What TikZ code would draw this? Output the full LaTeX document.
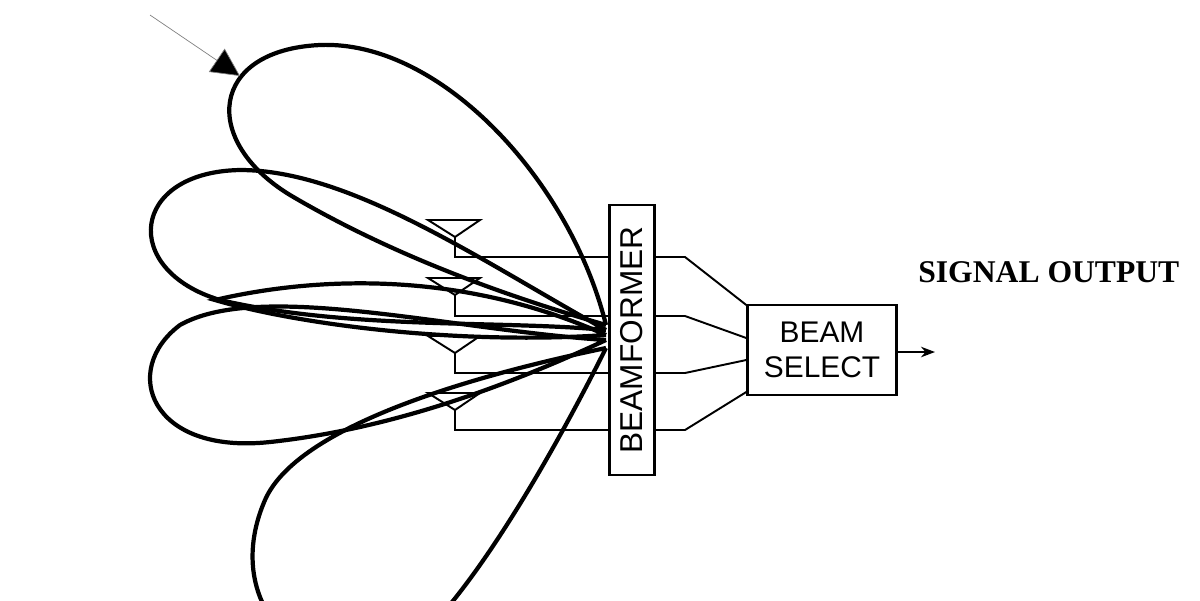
\documentclass[tikz,border=0pt]{standalone}
\usepackage{fontspec}
\setmainfont{Liberation Serif}
\setsansfont{Liberation Sans}
\usepackage{tikz}
\usetikzlibrary{arrows.meta,positioning,calc}
\begin{document}
\begin{tikzpicture}[x=0.02cm,y=-0.02cm,
    lobe/.style={line width=2.4pt},
    wire/.style={line width=1.1pt},
    box/.style={draw,line width=1.4pt,inner sep=0pt},
    lbl/.style={font=\sffamily\fontsize{18}{19}\selectfont}]
    \useasboundingbox (0,0) rectangle (1200,600);
    \begin{scope}
        \clip (0,0) rectangle (1200,600);
        % beam lobes
        \coordinate (O) at (606,335);
        \draw[lobe] (606,325) .. controls (570,180) and (440,40) .. (320,45) .. controls (210,50) and (200,140) .. (290,195) .. controls (400,260) and (520,300) .. (606,325);
        \draw[lobe] (606,330) .. controls (480,260) and (350,170) .. (240,170) .. controls (130,172) and (120,270) .. (220,300) .. controls (350,330) and (500,320) .. (606,330);
        \draw[lobe] (O) .. controls (450,265) and (300,280) .. (215,300) .. controls (300,325) and (460,345) .. (O);
        \draw[lobe] (606,340) .. controls (450,330) and (260,280) .. (180,325) .. controls (120,370) and (150,455) .. (270,442) .. controls (400,428) and (520,380) .. (606,340);
        \draw[lobe] (606,348) .. controls (500,370) and (300,420) .. (265,500) .. controls (230,580) and (270,660) .. (370,670) .. controls (450,650) and (570,420) .. (606,348);
    \end{scope}
    % incoming signal
    \coordinate (src) at (150,15);
    \coordinate (hit) at (240,76);
    \draw[gray,thin,-{Triangle[length=16pt,width=16pt,fill=black]}] (src) -- (hit);
    % boxes
    \node[box,minimum width=0.9cm,minimum height=5.4cm] (bf) at (632,340) {};
    \node[lbl,rotate=90] at (bf.center) {BEAMFORMER};
    \node[box,font=\sffamily\fontsize{17}{20}\selectfont,minimum width=2.98cm,minimum height=1.8cm,align=center] (sel) at (822,350) {BEAM\\SELECT};
    \node[font=\bfseries\fontsize{18}{19}\selectfont,anchor=west,inner sep=0pt] (out) at (918,272) {SIGNAL OUTPUT};
    \coordinate (end) at (935,352);
    \draw[wire,-{Stealth[length=8pt]}] (sel.east |- end) -- (end);
    % antennas and feeds
    \foreach \i/\ya/\yf/\yin in {1/220/257/305, 2/278/316/338, 3/336/373/360, 4/393/430/392} {
        \coordinate (ant\i) at (455,\ya);
        \draw[wire] ($(ant\i)+(-27,0)$) -- ($(ant\i)+(25,0)$) -- ($(ant\i)+(0,17)$) -- cycle;
        \draw[wire] ($(ant\i)+(0,17)$) -- (455,\yf) -- (bf.west |- 0,\yf);
        \draw[wire] (bf.east |- 0,\yf) -- (685,\yf) -- (sel.west |- 0,\yin);
    }
\end{tikzpicture}
\end{document}
